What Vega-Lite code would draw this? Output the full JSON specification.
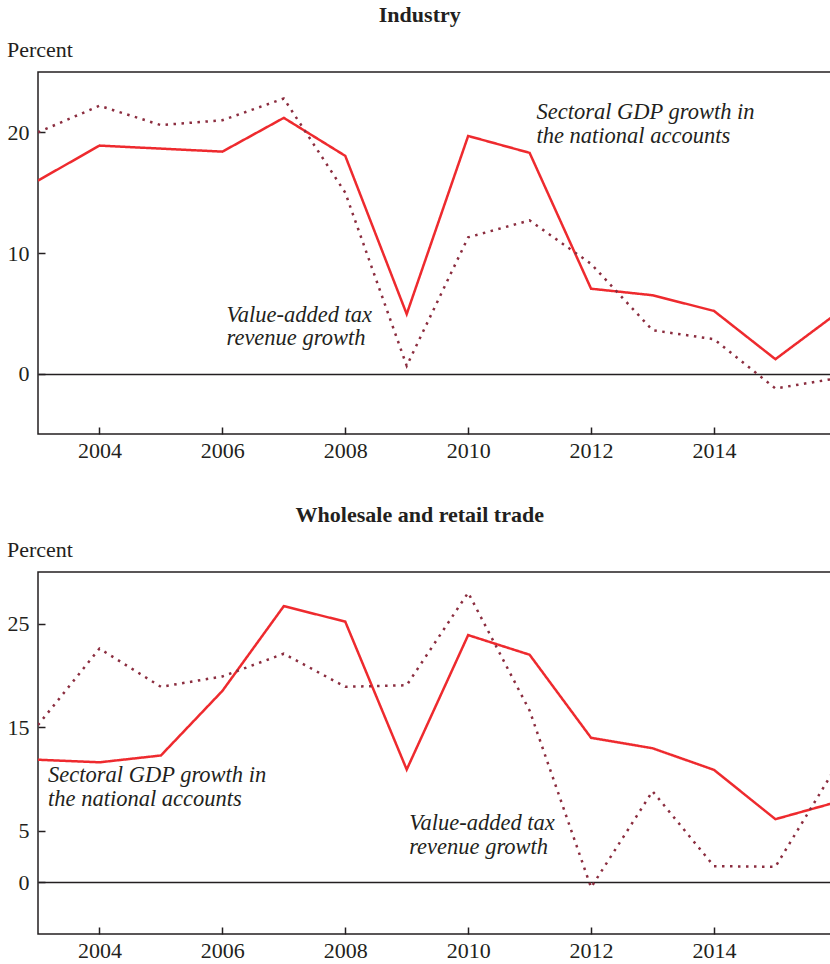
{
  "$schema": "https://vega.github.io/schema/vega-lite/v6.json",
  "background": "white",
  "padding": {"left": 5, "top": 2, "right": 0, "bottom": 0},
  "config": {
    "font": "Liberation Serif",
    "view": {"stroke": "#231f20", "strokeWidth": 1.5},
    "axis": {
      "domain": false,
      "tickColor": "#231f20",
      "tickWidth": 1.5,
      "tickSize": -7,
      "labelFont": "Liberation Serif",
      "labelFontSize": 22,
      "labelColor": "#231f20",
      "titleFont": "Liberation Serif",
      "titleFontSize": 22,
      "titleFontWeight": "normal",
      "titleColor": "#231f20"
    },
    "axisX": {"labelPadding": 13, "grid": false},
    "axisY": {"labelPadding": 16},
    "title": {"font": "Liberation Serif", "fontSize": 22, "fontWeight": "bold", "color": "#231f20", "anchor": "middle", "frame": "bounds"},
    "concat": {"spacing": 40}
  },
  "datasets": {
    "industry": [
      {"year": 2003, "series": "GDP", "value": 16.0},
      {"year": 2004, "series": "GDP", "value": 18.9},
      {"year": 2005, "series": "GDP", "value": 18.65},
      {"year": 2006, "series": "GDP", "value": 18.4},
      {"year": 2007, "series": "GDP", "value": 21.2},
      {"year": 2008, "series": "GDP", "value": 18.05},
      {"year": 2009, "series": "GDP", "value": 4.94},
      {"year": 2010, "series": "GDP", "value": 19.7},
      {"year": 2011, "series": "GDP", "value": 18.3},
      {"year": 2012, "series": "GDP", "value": 7.04},
      {"year": 2013, "series": "GDP", "value": 6.5},
      {"year": 2014, "series": "GDP", "value": 5.2},
      {"year": 2015, "series": "GDP", "value": 1.2},
      {"year": 2016, "series": "GDP", "value": 5.0},
      {"year": 2003, "series": "VAT", "value": 20.0},
      {"year": 2004, "series": "VAT", "value": 22.2},
      {"year": 2005, "series": "VAT", "value": 20.6},
      {"year": 2006, "series": "VAT", "value": 21.0},
      {"year": 2007, "series": "VAT", "value": 22.8},
      {"year": 2008, "series": "VAT", "value": 15.0},
      {"year": 2009, "series": "VAT", "value": 0.65},
      {"year": 2010, "series": "VAT", "value": 11.3},
      {"year": 2011, "series": "VAT", "value": 12.7},
      {"year": 2012, "series": "VAT", "value": 9.1},
      {"year": 2013, "series": "VAT", "value": 3.6},
      {"year": 2014, "series": "VAT", "value": 2.86},
      {"year": 2015, "series": "VAT", "value": -1.23},
      {"year": 2016, "series": "VAT", "value": -0.38}
    ],
    "industry_notes": [
      {"year": 2011.112, "value": 21.08, "label": "Sectoral GDP growth in"},
      {"year": 2011.112, "value": 19.09, "label": "the national accounts"},
      {"year": 2006.067, "value": 4.3, "label": "Value-added tax"},
      {"year": 2006.067, "value": 2.36, "label": "revenue growth"}
    ],
    "trade": [
      {"year": 2003, "series": "GDP", "value": 11.85},
      {"year": 2004, "series": "GDP", "value": 11.6},
      {"year": 2005, "series": "GDP", "value": 12.26},
      {"year": 2006, "series": "GDP", "value": 18.5},
      {"year": 2007, "series": "GDP", "value": 26.7},
      {"year": 2008, "series": "GDP", "value": 25.2},
      {"year": 2009, "series": "GDP", "value": 10.9},
      {"year": 2010, "series": "GDP", "value": 23.9},
      {"year": 2011, "series": "GDP", "value": 22.0},
      {"year": 2012, "series": "GDP", "value": 13.97},
      {"year": 2013, "series": "GDP", "value": 12.96},
      {"year": 2014, "series": "GDP", "value": 10.87},
      {"year": 2015, "series": "GDP", "value": 6.1},
      {"year": 2016, "series": "GDP", "value": 7.76},
      {"year": 2003, "series": "VAT", "value": 15.2},
      {"year": 2004, "series": "VAT", "value": 22.6},
      {"year": 2005, "series": "VAT", "value": 18.9},
      {"year": 2006, "series": "VAT", "value": 19.9},
      {"year": 2007, "series": "VAT", "value": 22.1},
      {"year": 2008, "series": "VAT", "value": 18.9},
      {"year": 2009, "series": "VAT", "value": 19.05},
      {"year": 2010, "series": "VAT", "value": 28.0},
      {"year": 2011, "series": "VAT", "value": 16.6},
      {"year": 2012, "series": "VAT", "value": -0.5},
      {"year": 2013, "series": "VAT", "value": 8.8},
      {"year": 2014, "series": "VAT", "value": 1.56},
      {"year": 2015, "series": "VAT", "value": 1.5},
      {"year": 2016, "series": "VAT", "value": 11.3}
    ],
    "trade_notes": [
      {"year": 2003.164, "value": 9.7, "label": "Sectoral GDP growth in"},
      {"year": 2003.164, "value": 7.39, "label": "the national accounts"},
      {"year": 2009.04, "value": 5.07, "label": "Value-added tax"},
      {"year": 2009.04, "value": 2.76, "label": "revenue growth"}
    ]
  },
  "vconcat": [
    {
      "title": {"text": "Industry", "offset": 12},
      "width": 795,
      "height": 362,
      "encoding": {
        "x": {"field": "year", "type": "quantitative",
          "scale": {"domain": [2003, 2015.937], "nice": false, "zero": false},
          "axis": {"values": [2004, 2006, 2008, 2010, 2012, 2014], "format": "d", "title": null}},
        "y": {"field": "value", "type": "quantitative",
          "scale": {"domain": [-5, 25], "nice": false, "zero": false},
          "axis": {"values": [0, 10, 20], "title": "Percent", "titleAngle": 0, "titleAlign": "left", "titleBaseline": "alphabetic", "titleX": -31.5, "titleY": -15.5,
            "grid": true, "gridColor": "#231f20", "gridWidth": 1.5,
            "gridOpacity": {"condition": {"test": "datum.value === 0", "value": 1}, "value": 0}}}
      },
      "layer": [
        {
          "data": {"name": "industry"},
          "mark": {"type": "line", "clip": true, "strokeWidth": 2.5, "strokeCap": "butt"},
          "encoding": {
            "color": {"field": "series", "type": "nominal", "scale": {"domain": ["GDP", "VAT"], "range": ["#ee2a2e", "#8b2d3f"]}, "legend": null},
            "strokeDash": {"field": "series", "type": "nominal", "scale": {"domain": ["GDP", "VAT"], "range": [[1, 0], [2.5, 5.5]]}, "legend": null}
          }
        },
        {
          "data": {"name": "industry_notes"},
          "mark": {"type": "text", "align": "left", "baseline": "alphabetic", "fontStyle": "italic", "fontSize": 22.5, "color": "#231f20", "font": "Liberation Serif"},
          "encoding": {"text": {"field": "label"}}
        }
      ]
    },
    {
      "title": {"text": "Wholesale and retail trade", "offset": 12},
      "width": 795,
      "height": 362,
      "encoding": {
        "x": {"field": "year", "type": "quantitative",
          "scale": {"domain": [2003, 2015.937], "nice": false, "zero": false},
          "axis": {"values": [2004, 2006, 2008, 2010, 2012, 2014], "format": "d", "title": null}},
        "y": {"field": "value", "type": "quantitative",
          "scale": {"domain": [-5, 30], "nice": false, "zero": false},
          "axis": {"values": [0, 5, 15, 25], "title": "Percent", "titleAngle": 0, "titleAlign": "left", "titleBaseline": "alphabetic", "titleX": -31.5, "titleY": -15.5,
            "grid": true, "gridColor": "#231f20", "gridWidth": 1.5,
            "gridOpacity": {"condition": {"test": "datum.value === 0", "value": 1}, "value": 0}}}
      },
      "layer": [
        {
          "data": {"name": "trade"},
          "mark": {"type": "line", "clip": true, "strokeWidth": 2.5, "strokeCap": "butt"},
          "encoding": {
            "color": {"field": "series", "type": "nominal", "scale": {"domain": ["GDP", "VAT"], "range": ["#ee2a2e", "#8b2d3f"]}, "legend": null},
            "strokeDash": {"field": "series", "type": "nominal", "scale": {"domain": ["GDP", "VAT"], "range": [[1, 0], [2.5, 5.5]]}, "legend": null}
          }
        },
        {
          "data": {"name": "trade_notes"},
          "mark": {"type": "text", "align": "left", "baseline": "alphabetic", "fontStyle": "italic", "fontSize": 22.5, "color": "#231f20", "font": "Liberation Serif"},
          "encoding": {"text": {"field": "label"}}
        }
      ]
    }
  ]
}
